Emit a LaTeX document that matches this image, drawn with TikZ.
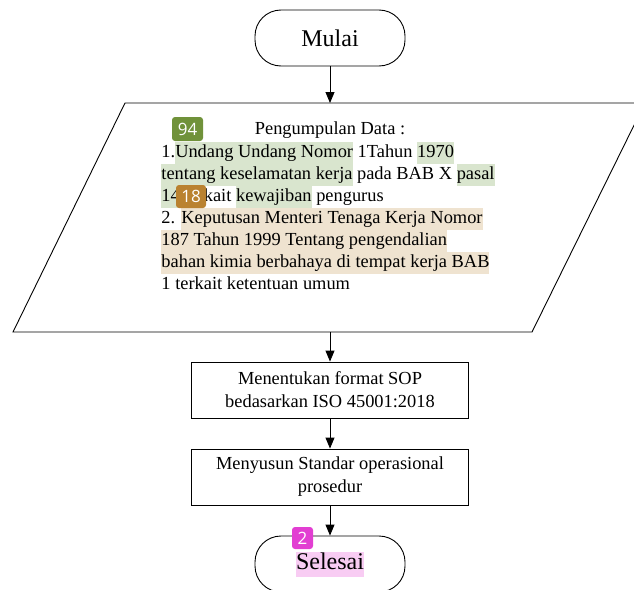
\documentclass[tikz,border=0pt]{standalone}
\usepackage{fontspec}
\setmainfont{Liberation Serif}
\newfontfamily\badgefont{Open Sans}
\usetikzlibrary{arrows.meta}
\definecolor{hlgreen}{RGB}{217,229,206}
\definecolor{hltan}{RGB}{239,227,208}
\definecolor{hlpink}{RGB}{248,204,243}
\definecolor{bdgreen}{RGB}{112,146,58}
\definecolor{bdorange}{RGB}{186,130,48}
\definecolor{bdpink}{RGB}{226,62,210}
\newcommand{\hlg}[1]{{\fboxsep=0pt\colorbox{hlgreen}{\strut#1}}}
\newcommand{\hlt}[1]{{\fboxsep=0pt\colorbox{hltan}{\strut#1}}}
\newcommand{\hlp}[1]{{\fboxsep=0pt\colorbox{hlpink}{\strut#1}}}
\begin{document}
\begin{tikzpicture}[x=1pt,y=-1pt,line width=0.9pt,
  term/.style={draw,rounded corners=26pt,minimum width=150pt,minimum height=56pt,font=\fontsize{24}{25}\selectfont},
  proc/.style={draw,minimum width=277pt,minimum height=56pt,align=center,font=\fontsize{18.4}{23}\selectfont},
  arr/.style={-{Triangle[width=9pt,length=11pt]}},
  badge/.style={rounded corners=3pt,text=white,inner sep=0pt,font=\badgefont\fontsize{17}{17}\selectfont}]
\useasboundingbox (0,0) rectangle (634,589);
\clip (0,0) rectangle (634,589);
\node[term] (mulai) at (330,38) {Mulai};
% data input
\coordinate (dtl) at (125,103);
\coordinate (dtr) at (645,103);
\coordinate (dbr) at (532,332);
\coordinate (dbl) at (13,332);
\coordinate (din) at (330,103);
\coordinate (dout) at (330,332);
\draw (dtl) -- (dtr) -- (dbr) -- (dbl) -- cycle;
\node[font=\fontsize{18.4}{22}\selectfont] (judul) at (330,130) {Pengumpulan Data :};
\node[anchor=north west,inner sep=0pt,align=left,font=\fontsize{18.4}{22}\selectfont] (isi) at (161,142)
  {1.\hlg{Undang Undang Nomor} 1Tahun \hlg{1970}\\
   \hlg{tentang keselamatan kerja} pada BAB X \hlg{pasal}\\
   \hlg{14} terkait \hlg{kewajiban} pengurus\\
   2. \hlt{Keputusan Menteri Tenaga Kerja Nomor}\\
   \hlt{187 Tahun 1999 Tentang pengendalian}\\
   \hlt{bahan kimia berbahaya di tempat kerja BAB}\\
   \strut 1 terkait ketentuan umum};
\node[proc] (format) at (330,390) {Menentukan format SOP\\bedasarkan ISO 45001:2018};
\node[proc] (susun) at (330,477) {Menyusun Standar operasional\\prosedur};
\node[term] (selesai) at (330,564) {\hlp{Selesai}};
\draw[arr] (mulai) -- (din);
\draw[arr] (dout) -- (format);
\draw[arr] (format) -- (susun);
\draw[arr] (susun) -- (selesai);
% badges
\node[badge,fill=bdgreen,minimum width=31pt,minimum height=24pt] (b94) at (187.5,129) {94};
\node[badge,fill=bdorange,minimum width=30pt,minimum height=23pt] (b18) at (191,196.5) {18};
\node[badge,fill=bdpink,minimum width=21pt,minimum height=22pt] (b2) at (302.5,538) {2};
\end{tikzpicture}
\end{document}
